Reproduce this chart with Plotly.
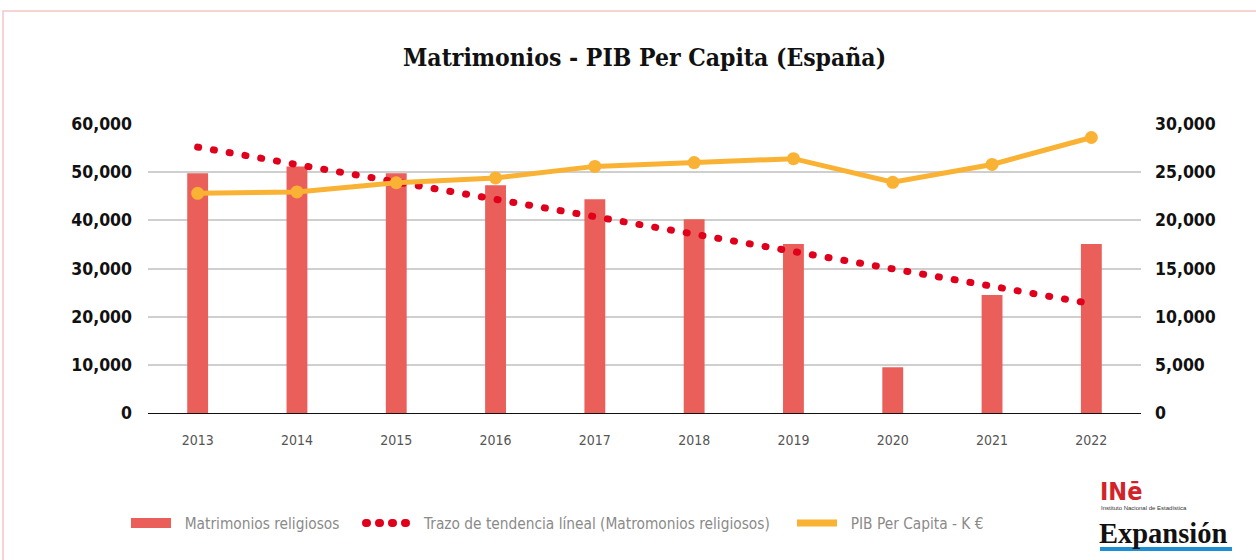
import plotly.graph_objects as go

years = ["2013", "2014", "2015", "2016", "2017", "2018", "2019", "2020", "2021", "2022"]
matrimonios_religiosos = [49800, 51200, 49800, 47300, 44400, 40200, 35100, 9500, 24500, 35100]
pib_per_capita = [22800, 22950, 23900, 24400, 25600, 26000, 26400, 23950, 25800, 28600]
trend_years = ["2013", "2022"]
trend_values = [55200, 22700]

left_ticks = [0, 10000, 20000, 30000, 40000, 50000, 60000]
right_ticks = [0, 5000, 10000, 15000, 20000, 25000, 30000]

BAR = "#EA5F59"
TREND = "#E0001B"
ORANGE = "#F9B233"
COND = "DejaVu Sans Condensed, DejaVu Sans, sans-serif"
NB = "\u00a0"

# plot area in pixels
L, R, T, B = 148, 1141, 124, 413
PW, PH = R - L, B - T


def px(x):
    return (x - L) / PW


def py(y):
    return (B - y) / PH


fig = go.Figure()
fig.add_trace(go.Bar(
    x=years, y=matrimonios_religiosos, name="Matrimonios religiosos",
    marker=dict(color=BAR, line=dict(width=0)), width=0.21, yaxis="y",
    showlegend=False,
))
fig.add_trace(go.Scatter(
    x=trend_years, y=trend_values, mode="lines",
    name="Trazo de tendencia líneal (Matromonios religiosos)",
    line=dict(color=TREND, width=7, dash="1px,15px"), yaxis="y",
    showlegend=False,
))
fig.add_trace(go.Scatter(
    x=years, y=pib_per_capita, mode="lines+markers", name="PIB Per Capita - K €",
    line=dict(color=ORANGE, width=5), marker=dict(color=ORANGE, size=13),
    yaxis="y2", showlegend=False,
))

# legend entries (legend-only traces)
fig.add_trace(go.Scatter(x=[None], y=[None], mode="lines", name=NB * 2 + "Matrimonios religiosos",
                         line=dict(color=BAR, width=10), legend="legend"))
fig.add_trace(go.Scatter(x=[None], y=[None], mode="lines",
                         name=NB * 3 + "Trazo de tendencia líneal (Matromonios religiosos)",
                         line=dict(color=TREND, width=8, dash="1px,12px"), legend="legend2"))
fig.add_trace(go.Scatter(x=[None], y=[None], mode="lines", name=NB * 2 + "PIB Per Capita - K €",
                         line=dict(color=ORANGE, width=7), legend="legend3"))

leg_common = dict(
    orientation="h", yanchor="middle", y=py(523), xanchor="left",
    font=dict(family=COND, size=15.3, color="#8a8a8a"),
    itemwidth=40, bgcolor="rgba(0,0,0,0)", borderwidth=0,
)

fig.update_layout(
    width=1256, height=560,
    paper_bgcolor="white", plot_bgcolor="white",
    margin=dict(l=L, r=1256 - R, t=T, b=560 - B),
    title=dict(
        text="<b>Matrimonios - PIB Per Capita (España)</b>",
        x=0.5, xref="paper", xanchor="center",
        y=1 - 57 / 560, yref="container", yanchor="middle",
        font=dict(family="DejaVu Serif Condensed, DejaVu Serif, serif", size=24.5, color="#111111"),
    ),
    xaxis=dict(
        type="category", range=[-0.5, 9.5], showgrid=False, showline=True,
        linecolor="#111111", linewidth=1.2,
        ticks="", tickfont=dict(family=COND, size=14, color="#555555"),
        ticklabelstandoff=14, automargin=False,
    ),
    yaxis=dict(
        range=[0, 60000], tickvals=left_ticks, tickformat=",d",
        showgrid=True, gridcolor="#cfcfcf", gridwidth=1.5, zeroline=False,
        showline=False, ticks="", ticklabelstandoff=15, automargin=False,
        tickfont=dict(family=COND, size=17.5, color="#111111", weight="bold"),
    ),
    yaxis2=dict(
        range=[0, 30000], tickvals=right_ticks, tickformat=",d",
        overlaying="y", side="right", showgrid=False, zeroline=False,
        showline=False, ticks="", ticklabelstandoff=13, automargin=False,
        tickfont=dict(family=COND, size=17.5, color="#111111", weight="bold"),
    ),
    legend=dict(leg_common, x=px(126)),
    legend2=dict(leg_common, x=px(361)),
    legend3=dict(leg_common, x=px(792)),
    bargap=0.5,
    showlegend=True,
)

# frame
fig.add_shape(type="rect", xref="paper", yref="paper",
              x0=px(3), x1=px(1262), y0=py(566), y1=py(11),
              line=dict(color="#F3C6C6", width=1.5), fillcolor="rgba(0,0,0,0)", layer="below")

# source logos as text
fig.add_annotation(xref="paper", yref="paper", x=px(1098), y=py(491),
                   xanchor="left", yanchor="middle", showarrow=False,
                   text="<b>INē</b>", font=dict(family="DejaVu Sans Condensed, sans-serif", size=25, color="#D2232A"))
fig.add_annotation(xref="paper", yref="paper", x=px(1099), y=py(508),
                   xanchor="left", yanchor="middle", showarrow=False,
                   text="Instituto Nacional de Estadística",
                   font=dict(family="Liberation Sans, sans-serif", size=6, color="#333333"))
fig.add_annotation(xref="paper", yref="paper", x=px(1097), y=py(533),
                   xanchor="left", yanchor="middle", showarrow=False,
                   text="<b>Expansión</b>",
                   font=dict(family="Liberation Serif, serif", size=28.5, color="#111111"))
fig.add_shape(type="rect", xref="paper", yref="paper",
              x0=px(1100), x1=px(1232), y0=py(551), y1=py(547),
              line=dict(width=0), fillcolor="#1E8FD5")

post = """
document.body.style.margin = '0';
document.body.style.overflow = 'hidden';
var gd = document.getElementById('{plot_id}');
function fixCaps(){
  gd.querySelectorAll('path.js-line').forEach(function(p){
    var d = p.style.strokeDasharray;
    if (d && d !== 'none') { p.style.strokeLinecap = 'round'; }
  });
}
fixCaps();
gd.on && gd.on('plotly_afterplot', fixCaps);
"""
fig.write_html("out.html", post_script=post, config={"displayModeBar": False})
